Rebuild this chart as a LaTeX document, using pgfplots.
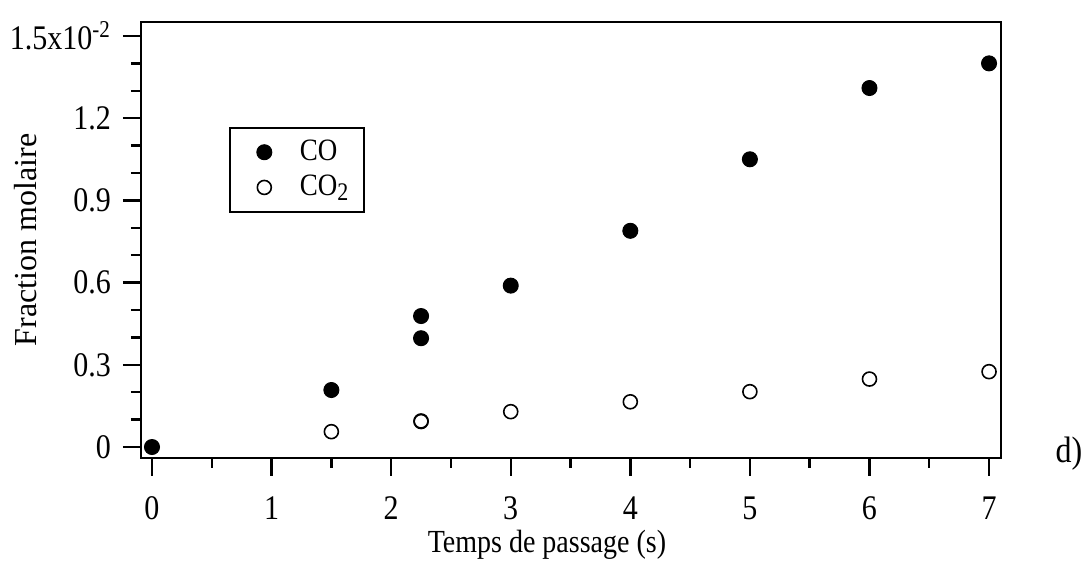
\documentclass[border=0pt]{standalone}
\usepackage{fontspec}
\setmainfont{Liberation Serif}
\usepackage{pgfplots}
\pgfplotsset{compat=1.18}
\pgfplotstableread{
x y
0 0
1.5 0.208
2.25 0.397
2.25 0.478
3 0.589
4 0.789
5 1.05
6 1.31
7 1.40
}\tabCO
\pgfplotstableread{
x y
1.5 0.056
2.25 0.093
2.25 0.095
3 0.129
4 0.165
5 0.202
6 0.248
7 0.275
}\tabCOtwo
\begin{document}
\begin{tikzpicture}
\begin{axis}[
  scale only axis, width=430pt, height=218pt,
  xmin=-0.092, xmax=7.1, ymin=-0.04, ymax=1.551,
  axis line style={line width=1.4pt},
  xtick={0,1,2,3,4,5,6,7},
  xticklabels={0,1,2,3,4,5,6,7},
  minor x tick num=1,
  ytick={0,0.3,0.6,0.9,1.2,1.5},
  yticklabels={0,0.3,0.6,0.9,1.2,{1.5x10\textsuperscript{-2}}},
  minor y tick num=2,
  tick align=outside, tick pos=left,
  major tick length=9pt, minor tick length=5pt,
  every tick/.style={black, line width=1.2pt},
  ticklabel style={font=\fontsize{15}{18}\selectfont, yscale=1.15},
  xticklabel style={yshift=-5.5pt},
  yticklabel style={xshift=-2.5pt},
  legend style={at={(rel axis cs:0.1027,0.76)}, anchor=north west,
    draw=black, line width=1pt, font=\fontsize{13.5}{16}\selectfont,
    inner xsep=6pt, inner ysep=4pt, row sep=1pt, column sep=12pt,
    nodes={yscale=1.15}},
  legend image code/.code={\path (-10.5pt,0pt); \draw[#1] plot coordinates {(0pt,0pt)};},
  legend cell align=left,
  clip=false,
]
\addplot[only marks, mark=*, mark size=3.75pt, mark options={fill=black, draw=black, line width=0.5pt}] table[x=x,y=y] {\tabCO};
\addlegendentry{CO}
\addplot[only marks, mark=o, mark size=3.5pt, mark options={draw=black, line width=0.8pt}] table[x=x,y=y] {\tabCOtwo};
\addlegendentry{CO\raisebox{-0.35ex}{\fontsize{11}{13}\selectfont 2}}
\node[rotate=90, anchor=base, font=\fontsize{16}{19}\selectfont] at ([xshift=-52pt]axis description cs:0,0.5) {Fraction molaire};
\node[anchor=base, yscale=1.15, font=\fontsize{14}{17}\selectfont] at ([yshift=-47.5pt]axis description cs:0.472,0) {Temps de passage (s)};
\node[anchor=center, yscale=1.15, font=\fontsize{16}{19}\selectfont] at ([xshift=34pt,yshift=2pt]axis description cs:1,0) {d)};
\end{axis}
\pgfresetboundingbox
\path ([xshift=-70.5pt,yshift=-55.5pt]current axis.south west) rectangle ([xshift=44pt,yshift=11pt]current axis.north east);
\end{tikzpicture}
\end{document}
